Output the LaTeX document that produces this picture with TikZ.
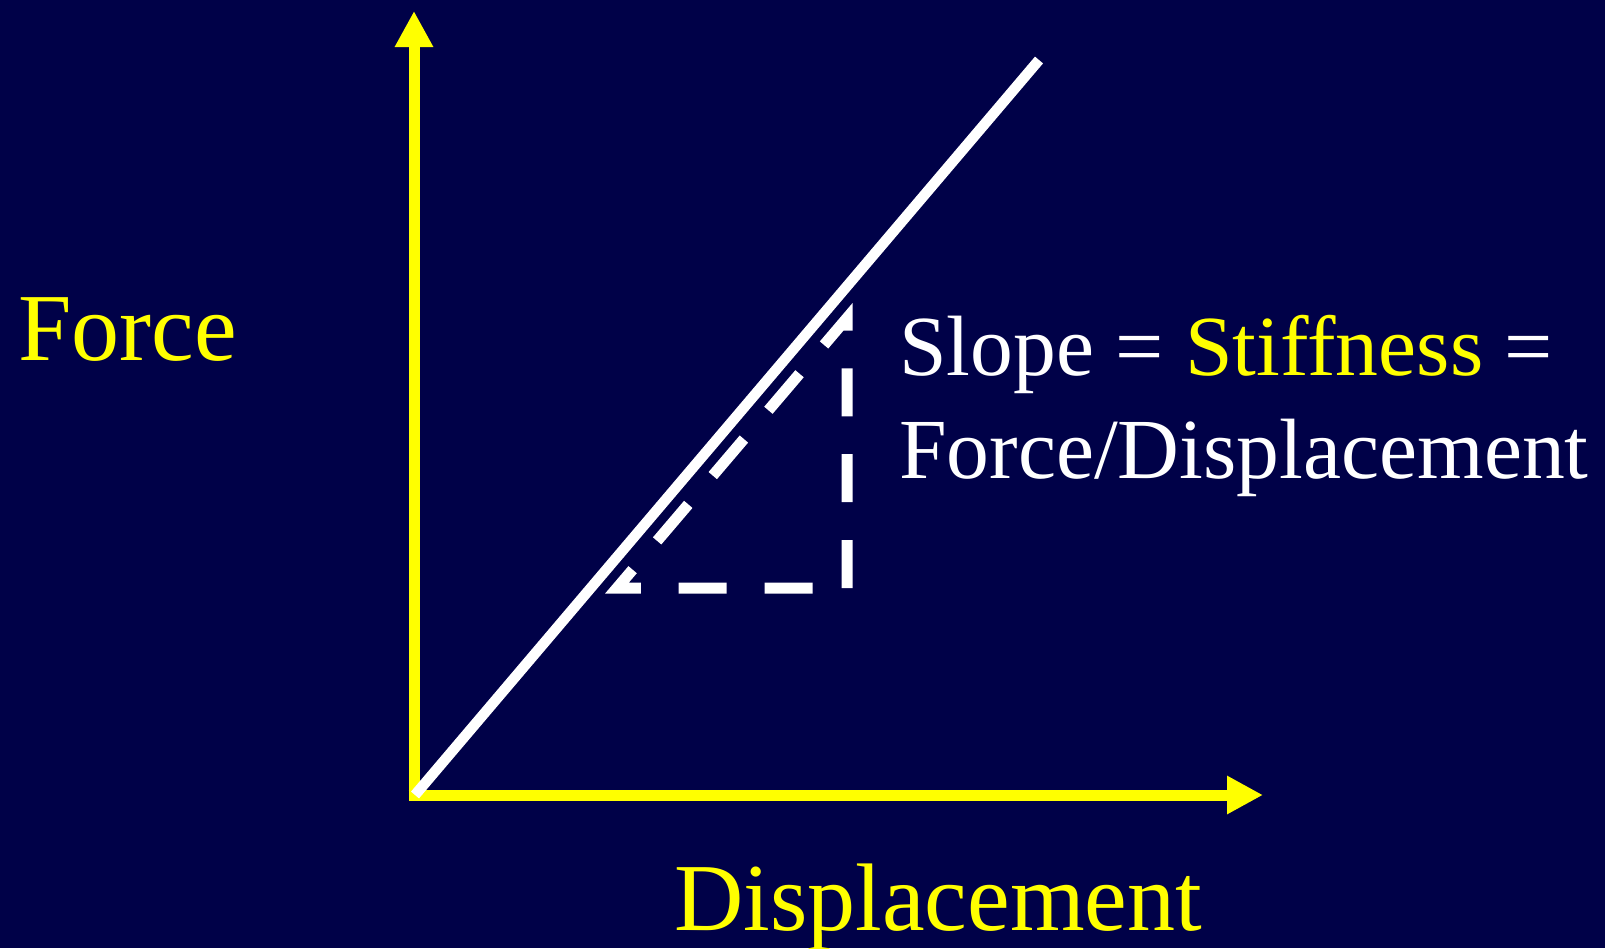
\documentclass[tikz,border=0pt]{standalone}
\usepackage{fontspec}
\setmainfont{Liberation Serif}
\usetikzlibrary{arrows.meta}
\definecolor{bgnavy}{RGB}{0,1,72}
\definecolor{ylw}{RGB}{255,255,0}
\begin{document}
\begin{tikzpicture}[x=1pt,y=-1pt,
  axisline/.style={draw=ylw, line width=11pt, -{Triangle[length=36pt,width=36pt]}},
  curveline/.style={draw=white, line width=10.5pt},
  slopetri/.style={draw=white, line width=11pt, dash pattern=on 48pt off 37.8pt, line join=miter},
  biglabel/.style={text=ylw, anchor=base west, inner sep=0pt, font=\fontsize{96}{100}\selectfont},
  note/.style={text=white, anchor=base west, inner sep=0pt, font=\fontsize{85.6}{103}\selectfont}
]
\fill[bgnavy] (0,0) rectangle (1605,948);
\useasboundingbox (0,0) rectangle (1605,948);

% axes
\coordinate (ybot) at (414,800.5);
\coordinate (ytop) at (414,11);
\coordinate (xstart) at (408.5,795);
\coordinate (xend) at (1263,795);
\draw[axisline] (ybot) -- (ytop);
\draw[axisline] (xstart) -- (xend);

% force-displacement line
\coordinate (d0) at (415,795);
\coordinate (d1) at (1039,60);
\draw[curveline] (d0) -- (d1);

% slope triangle
\coordinate (tA) at (617,588);
\coordinate (tB) at (847,588);
\coordinate (tC) at (847,318);
\draw[slopetri] (tB) -- (tC) -- (tA) -- cycle;

% labels
\node[biglabel] (force) at (18,360) {Force};
\node[biglabel] (disp) at (674,930) {Displacement};
\node[note] (slope) at (899,375) {Slope = \textcolor{ylw}{Stiffness} =};
\node[note] (fd) at (899,478) {Force/Displacement};
\end{tikzpicture}
\end{document}
